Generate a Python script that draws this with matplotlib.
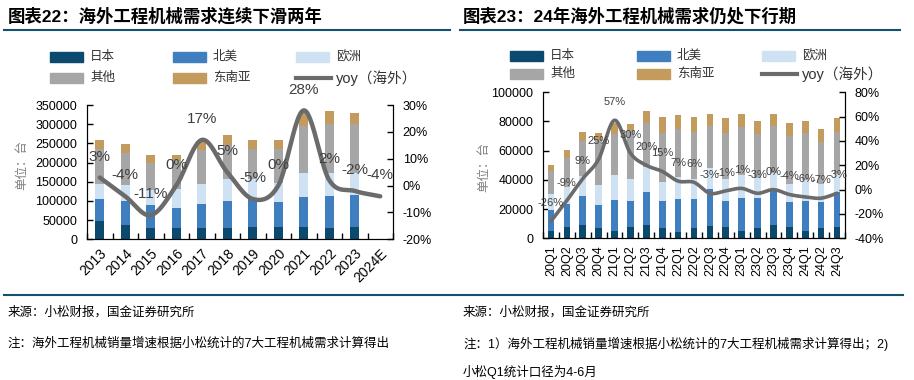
import numpy as np
import matplotlib
matplotlib.use("Agg")
import matplotlib.pyplot as plt
from matplotlib.patches import Rectangle
from matplotlib.lines import Line2D
from matplotlib.ticker import FuncFormatter, MultipleLocator

plt.rcParams['font.family'] = ['Liberation Sans', 'Noto Sans CJK SC']

# ---- data: annual (left chart) ----
years = ['2013', '2014', '2015', '2016', '2017', '2018', '2019', '2020', '2021', '2022', '2023', '2024E']
jp_y = [47000, 36600, 28700, 28700, 28700, 28700, 31300, 31300, 31300, 28700, 31300]
na_y = [57500, 62400, 60000, 52300, 62700, 70300, 73200, 65300, 78400, 83300, 83600]
eu_y = [39000, 42000, 39000, 49600, 52200, 57700, 53000, 49400, 62300, 60000, 57000]
other_y = [91500, 85000, 72000, 74000, 88400, 89000, 77000, 89000, 123000, 128000, 128000]
sea_y = [23500, 22000, 19000, 14500, 24000, 26000, 23500, 23500, 35000, 34000, 29000]
yoy_y = [3, -4, -11, 0, 17, 5, -5, 0, 28, 2, -2, -4]

# ---- data: quarterly (right chart) ----
quarters = ['20Q1', '20Q2', '20Q3', '20Q4', '21Q1', '21Q2', '21Q3', '21Q4', '22Q1', '22Q2',
            '22Q3', '22Q4', '23Q1', '23Q2', '23Q3', '23Q4', '24Q1', '24Q2', '24Q3']
jp_q = [5000, 8000, 9100, 7300, 5000, 8000, 9100, 7300, 4600, 7300,
        8500, 7800, 5000, 7300, 9100, 7800, 5300, 7300, 8000]
na_q = [14400, 15500, 19900, 15500, 21300, 17800, 22600, 18500, 22100, 19400,
        25500, 17800, 22900, 20600, 23400, 17300, 20500, 17800, 24000]
eu_q = [11000, 11900, 13700, 13700, 17100, 15100, 16900, 13000, 15500, 14200,
        14000, 14800, 15500, 13700, 12500, 12300, 14200, 12100, 12000]
other_q = [15700, 19800, 24000, 30800, 28100, 33300, 30200, 33100, 32700, 32200,
           28600, 32000, 33100, 29900, 32000, 32900, 32400, 29000, 28600]
sea_q = [4100, 5300, 6100, 4800, 7300, 4300, 8400, 11200, 9600, 10000,
         8200, 9800, 8700, 8900, 8200, 8900, 8200, 8900, 10000]
yoy_q = [-26, -9, 9, 25, 57, 30, 20, 15, 7, 6, -3, -1, 1, -3, 0, -4, -6, -7, -3]

colors = ['#0b4a6e', '#3f7fbf', '#cfe2f3', '#a6a6a6', '#c39b5c']
names = ['日本', '北美', '欧洲', '其他', '东南亚']
line_color = '#6b6b6b'
rule_color = '#17506e'


def smooth(x, y, n=24):
    # Catmull-Rom curve through the points (mimics the smoothed line style)
    pts = np.column_stack([x, y]).astype(float)
    p = np.vstack([2 * pts[0] - pts[1], pts, 2 * pts[-1] - pts[-2]])
    t = np.linspace(0, 1, n, endpoint=False)[:, None]
    out = []
    for i in range(1, len(p) - 2):
        p0, p1, p2, p3 = p[i - 1], p[i], p[i + 1], p[i + 2]
        seg = 0.5 * (2 * p1 + (-p0 + p2) * t + (2 * p0 - 5 * p1 + 4 * p2 - p3) * t ** 2
                     + (-p0 + 3 * p1 - 3 * p2 + p3) * t ** 3)
        out.append(seg)
    out.append(pts[-1:])
    s = np.vstack(out)
    return s[:, 0], s[:, 1]


def draw_panel(rect, cats, series, yoy, ylim, ystep, y2lim, y2step, width,
               rot, xfs, lw, lab_size, lab_off):
    ax = fig.add_axes(rect)
    x = np.arange(len(cats))
    nb = len(series[0])
    bottom = np.zeros(nb)
    for vals, c in zip(series, colors):
        ax.bar(x[:nb], vals, width, bottom=bottom, color=c, zorder=2)
        bottom += np.array(vals)
    ax.set_xlim(-0.5, len(cats) - 0.5)
    ax.set_ylim(*ylim)
    ax.yaxis.set_major_locator(MultipleLocator(ystep))
    ax.set_xticks(x)
    if rot == 45:
        ax.set_xticklabels(cats, rotation=45, ha='right', va='top', rotation_mode='anchor')
    else:
        ax.set_xticklabels(cats, rotation=90, ha='center', va='top')
    ax.set_xticks(np.arange(len(cats) + 1) - 0.5, minor=True)
    ax.tick_params(axis='x', which='major', length=0, pad=5, labelsize=xfs)
    ax.tick_params(axis='x', which='minor', direction='in', length=4, width=1)
    ax.tick_params(axis='y', direction='in', length=4, width=1, pad=7, labelsize=9)
    ax.spines['top'].set_visible(False)

    ax2 = ax.twinx()
    ax2.set_ylim(*y2lim)
    ax2.yaxis.set_major_locator(MultipleLocator(y2step))
    ax2.yaxis.set_major_formatter(FuncFormatter(lambda v, p: f'{v:.0f}%'))
    ax2.tick_params(axis='y', direction='in', length=4, width=1, pad=7, labelsize=9)
    ax2.spines['top'].set_visible(False)
    sx, sy = smooth(x, yoy)
    ax2.plot(sx, sy, color=line_color, lw=lw, solid_capstyle='round', zorder=3)
    for xi, v in zip(x, yoy):
        ax2.annotate(f'{v}%', (xi, v), xytext=(0, lab_off), textcoords='offset points',
                     ha='center', va='center', fontsize=lab_size, color='#404040')
    return ax


def legend(x0, xs, rows):
    # manual legend laid out in pixels
    items = list(zip(names, colors))
    pos = [(xs[0], rows[0]), (xs[1], rows[0]), (xs[2], rows[0]),
           (xs[0], rows[1]), (xs[1], rows[1])]
    for (name, c), (px, py) in zip(items, pos):
        fig.patches.append(Rectangle(((x0 + px) / W, 1 - (py + 5) / H), 33 / W, 10 / H,
                                     transform=fig.transFigure, color=c))
        fig.text((x0 + px + 40) / W, 1 - py / H, name, fontsize=9, va='center', color='#333333')
    px, py = xs[2], rows[1]
    fig.lines.append(Line2D([(x0 + px) / W, (x0 + px + 35) / W], [1 - py / H] * 2,
                            transform=fig.transFigure, color=line_color, lw=3))
    fig.text((x0 + px + 40) / W, 1 - py / H, 'yoy（海外）', fontsize=10.5, va='center',
             color='#333333')


W, H = 914, 380
fig = plt.figure(figsize=(W / 100, H / 100), dpi=100)

# titles and rules
fig.text(8 / W, 1 - 16 / H, '图表22：海外工程机械需求连续下滑两年', fontsize=12.5,
         fontweight='bold', va='center')
fig.text(463 / W, 1 - 16 / H, '图表23：24年海外工程机械需求仍处下行期', fontsize=12.5,
         fontweight='bold', va='center')
for a, b in [(4, 450), (460, 900)]:
    fig.lines.append(Line2D([a / W, b / W], [1 - 30 / H] * 2, transform=fig.transFigure,
                            color=rule_color, lw=1.5))
fig.lines.append(Line2D([4 / W, 903 / W], [1 - 295 / H] * 2, transform=fig.transFigure,
                        color=rule_color, lw=1.5))

legend(0, [50, 173, 296], [57, 78])
legend(455, [55, 182, 307], [56, 74])

left_series = [jp_y, na_y, eu_y, other_y, sea_y]
draw_panel([87 / W, 1 - 239.3 / H, 306 / W, 134.3 / H], years, left_series, yoy_y,
           (0, 350000), 50000, (-20, 30), 10, 0.35, 45, 10, 3.2, 11, 15)
right_series = [jp_q, na_q, eu_q, other_q, sea_q]
draw_panel([543 / W, 1 - 238.3 / H, 302 / W, 146 / H], quarters, right_series, yoy_q,
           (0, 100000), 20000, (-40, 80), 20, 0.42, 90, 9, 2.6, 8, 13)

fig.text(22 / W, 1 - 165 / H, '单位：台', rotation=90, fontsize=9, color='#808080',
         va='center', ha='center')
fig.text(484 / W, 1 - 167 / H, '单位：台', rotation=90, fontsize=9, color='#808080',
         va='center', ha='center')

# footer
fs = 9
fig.text(8 / W, 1 - 312 / H, '来源：小松财报，国金证券研究所', fontsize=fs, va='center')
fig.text(463 / W, 1 - 312 / H, '来源：小松财报，国金证券研究所', fontsize=fs, va='center')
fig.text(8 / W, 1 - 344 / H, '注：海外工程机械销量增速根据小松统计的7大工程机械需求计算得出',
         fontsize=fs, va='center')
fig.text(463 / W, 1 - 344 / H,
         '注：1）海外工程机械销量增速根据小松统计的7大工程机械需求计算得出；2)',
         fontsize=fs, va='center')
fig.text(463 / W, 1 - 372 / H, '小松Q1统计口径为4-6月', fontsize=fs, va='center')

fig.savefig('out.png', dpi=100)
